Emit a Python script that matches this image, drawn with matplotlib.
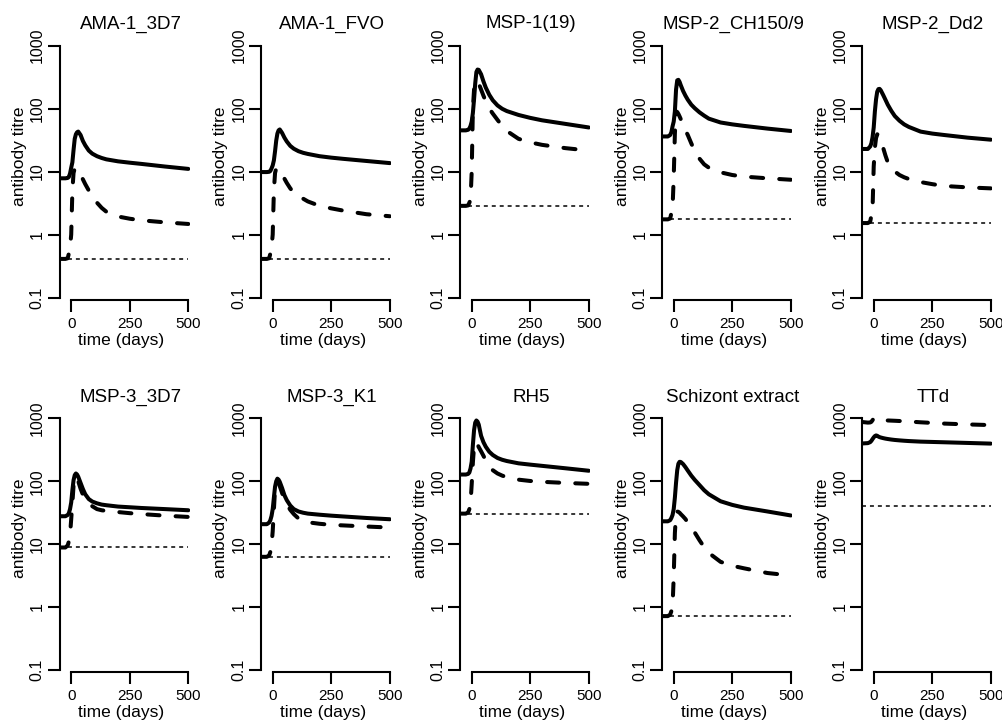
import matplotlib
matplotlib.use("Agg")
import matplotlib.pyplot as plt
from matplotlib.ticker import NullLocator

plt.rcParams['font.family'] = ['Liberation Sans', 'DejaVu Sans']

# time grid (days) shared by all panels
days = [-50, -25, -15, -10, -5, 0, 5, 10, 15, 20, 25, 30, 40, 50, 60, 75, 90, 110, 130, 150, 200, 250, 300, 400, 500]

titles = ["AMA-1_3D7", "AMA-1_FVO", "MSP-1(19)", "MSP-2_CH150/9", "MSP-2_Dd2",
          "MSP-3_3D7", "MSP-3_K1", "RH5", "Schizont extract", "TTd"]

# solid curves
ama1_3d7_a = [7.8, 7.8, 7.9, 8.2, 9.3, 11.5, 14, 22, 33, 39, 42, 43, 38, 30.5, 26, 21.5, 19.2, 17.5, 16.4, 15.6, 14.5, 13.8, 13.2, 12, 11]
ama1_fvo_a = [9.8, 9.8, 9.9, 10.2, 11.2, 12.5, 15, 21, 31, 40, 45, 46.5, 41, 34.5, 30, 25.5, 23, 21, 19.8, 19, 17.5, 16.6, 15.9, 14.7, 13.6]
msp1_a = [45, 45, 46, 48, 53, 62, 85, 140, 250, 380, 415, 410, 350, 270, 215, 165, 135, 112, 99, 91, 79, 71, 65, 57, 50]
msp2_ch_a = [36, 36, 38, 42, 52, 62, 90, 200, 280, 285, 265, 235, 190, 160, 138, 115, 101, 87, 77, 69, 60, 56, 53, 48, 44]
msp2_dd2_a = [22.8, 22.8, 25, 28, 35, 50, 90, 140, 185, 203, 205, 195, 165, 138, 115, 92, 76, 64, 56, 51, 43, 40, 38, 34.5, 32]
msp3_3d7_a = [27.7, 27.7, 29, 31, 36, 46, 72, 104, 125, 133, 128, 118, 94, 75, 62, 52, 47.5, 44.5, 42.5, 41.5, 39.5, 38.5, 37.5, 36, 34.5]
msp3_k1_a = [20.7, 20.7, 22, 24, 28, 36, 55, 82, 100, 110, 106, 98, 78, 60, 50, 41, 36, 33, 31.5, 30.5, 29.3, 28.3, 27.5, 26, 24.8]
rh5_a = [128, 128, 131, 138, 160, 205, 380, 650, 860, 930, 890, 800, 530, 420, 355, 295, 262, 235, 220, 210, 193, 184, 176, 161, 147]
schizont_a = [23, 23, 24, 26, 29, 36, 55, 95, 150, 190, 204, 203, 188, 168, 148, 123, 105, 87, 72, 62, 48, 42, 38, 33, 28.5]
ttd_a = [400, 405, 420, 440, 470, 500, 525, 537, 530, 515, 505, 498, 487, 478, 471, 462, 455, 448, 442, 437, 428, 423, 418, 408, 398]

# dashed curves
ama1_3d7_b = [0.41, 0.41, 0.42, 0.5, 0.62, 1.0, 5, 9.5, 11.2, 11.3, 10.9, 10.3, 8.9, 7.5, 6.3, 5.0, 4.1, 3.2, 2.65, 2.3, 1.93, 1.78, 1.68, 1.56, 1.47]
ama1_fvo_b = [0.41, 0.41, 0.42, 0.5, 0.62, 1.0, 5, 9.5, 11.2, 11.3, 10.9, 10.3, 9.0, 7.7, 6.6, 5.4, 4.6, 4.0, 3.7, 3.35, 2.85, 2.6, 2.4, 2.1, 1.95]
msp1_b = [2.85, 2.85, 2.9, 3.2, 3.6, 10, 100, 200, 265, 278, 270, 250, 200, 160, 130, 100, 83, 66, 53, 44, 33, 29, 26.5, 23.5, 21.5]
msp2_ch_b = [1.74, 1.74, 1.8, 2.2, 2.6, 8, 40, 90, 88, 82, 75, 68, 55, 45, 38, 28, 21, 16, 13, 11.5, 9.7, 8.8, 8.3, 7.8, 7.4]
msp2_dd2_b = [1.52, 1.52, 1.6, 2.0, 2.5, 12, 24, 34, 39, 38, 35, 31, 24, 18, 14, 11.3, 10, 8.8, 8.1, 7.6, 6.8, 6.3, 5.9, 5.6, 5.4]
msp3_3d7_b = [8.8, 8.8, 9.5, 11, 14, 25, 45, 85, 115, 117, 110, 100, 76, 61, 52, 45, 40, 36, 34.5, 33.7, 32.3, 31, 30, 28.3, 27]
msp3_k1_b = [6.25, 6.25, 6.6, 7.5, 9.5, 16, 35, 75, 95, 98, 92, 84, 65, 52, 43, 35, 30, 25.5, 23, 22.2, 21, 20.2, 19.8, 19, 18.3]
rh5_b = [30.5, 30.5, 32, 36, 45, 90, 200, 360, 420, 410, 385, 350, 300, 255, 215, 172, 150, 133, 123, 116, 106, 101, 98, 94, 91]
schizont_b = [0.71, 0.71, 0.75, 0.85, 1.0, 3, 15, 30, 33, 32.5, 31.5, 30, 27.5, 25, 22, 18.5, 15.2, 11.5, 8.9, 7.2, 5.2, 4.5, 4.1, 3.45, 3.15]
ttd_b = [880, 860, 865, 885, 940, 1000, 1020, 1000, 975, 960, 950, 945, 940, 935, 930, 925, 920, 912, 905, 895, 870, 850, 830, 805, 785]

# dotted cut-off level per antigen
cutoffs = [0.41, 0.41, 2.85, 1.74, 1.52, 8.8, 6.25, 30.5, 0.71, 40]

series_a = [ama1_3d7_a, ama1_fvo_a, msp1_a, msp2_ch_a, msp2_dd2_a,
            msp3_3d7_a, msp3_k1_a, rh5_a, schizont_a, ttd_a]
series_b = [ama1_3d7_b, ama1_fvo_b, msp1_b, msp2_ch_b, msp2_dd2_b,
            msp3_3d7_b, msp3_k1_b, rh5_b, schizont_b, ttd_b]

y_ticks = [0.1, 1, 10, 100, 1000]
y_ticklabels = ["0.1", "1", "10", "100", "1000"]
x_ticks = [0, 250, 500]

W, H = 1002, 727
fig = plt.figure(figsize=(W / 100, H / 100), dpi=100)

# panel layout in pixels
col_left = [59.5, 261, 460, 662, 862]
row_bottom = [299.5, 671.5]
row_height = [256, 255]
ax_w = 130

for i, name in enumerate(titles):
    r, c = divmod(i, 5)
    h = row_height[r]
    ax = fig.add_axes([col_left[c] / W, 1 - row_bottom[r] / H, ax_w / W, h / H])
    ax.set_yscale('log')
    ax.set_xlim(-50, 505)
    ax.set_ylim(0.093, 1076)

    ax.plot(days, series_a[i], color='black', lw=2.9,
            solid_capstyle='round', solid_joinstyle='round')
    ax.plot(days, series_b[i], color='black', lw=2.9, dashes=(3, 4),
            dash_capstyle='round', dash_joinstyle='round')
    ax.hlines(cutoffs[i], days[0], days[-1], color='black', lw=1.1,
              linestyles=(0, (2.6, 2.6)))

    for s in ['top', 'right']:
        ax.spines[s].set_visible(False)
    ax.spines['left'].set_bounds(0.1, 1000)
    ax.spines['bottom'].set_bounds(0, 500)
    ax.spines['left'].set_linewidth(1.5)
    ax.spines['bottom'].set_linewidth(1.5)

    ax.set_yticks(y_ticks)
    ax.set_yticklabels(y_ticklabels, rotation=90, va='center')
    ax.yaxis.set_minor_locator(NullLocator())
    ax.set_xticks(x_ticks)
    ax.set_xticklabels([str(v) for v in x_ticks])
    ax.tick_params(direction='out', length=8.6, width=1.5)
    ax.tick_params(axis='y', pad=2, labelsize=11.5)
    ax.tick_params(axis='x', pad=4, labelsize=11)

    ax.text(0.5 + 6 / ax_w, 1 + 15 / h, name, ha='center', va='baseline',
            fontsize=13.5, transform=ax.transAxes)
    ax.text(0.5 - 3 / ax_w, -41 / h, "time (days)", ha='center', va='center',
            fontsize=12.5, transform=ax.transAxes)
    ax.text(-40 / ax_w, 0.56, "antibody titre", ha='center', va='center',
            rotation=90, fontsize=12.5, transform=ax.transAxes)

fig.savefig('out.png', dpi=100)
